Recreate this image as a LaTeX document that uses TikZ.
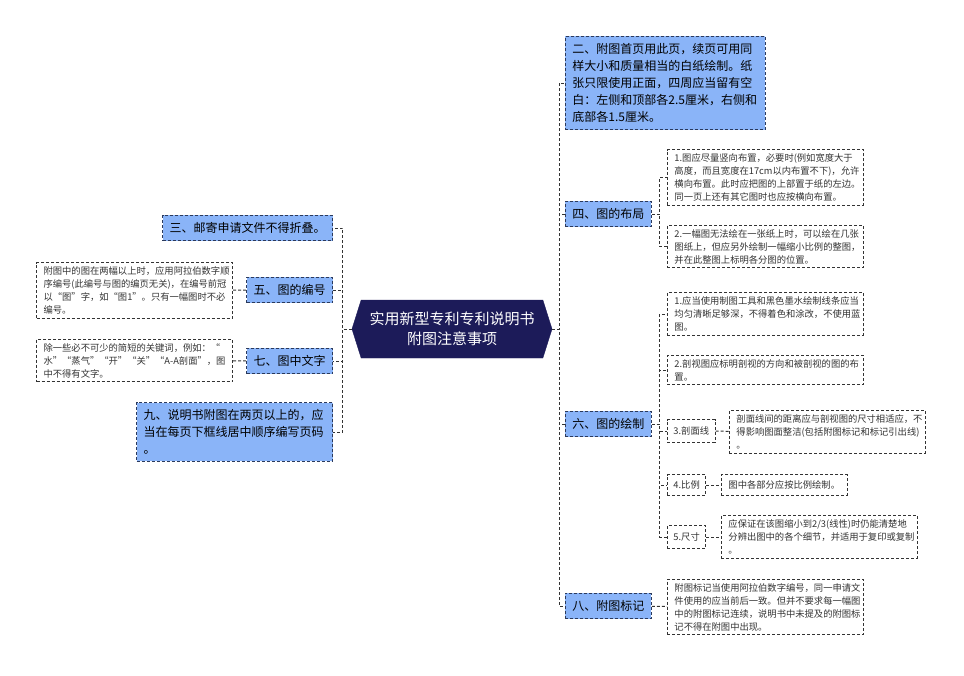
\documentclass[tikz,border=0pt]{standalone}
\usepackage{fontspec}
\setmainfont{Noto Sans CJK SC}
\usetikzlibrary{shapes.symbols}
\definecolor{navy}{HTML}{1C1B59}
\definecolor{sky}{HTML}{8AB4F8}
\definecolor{rim}{HTML}{2B3A5C}
\definecolor{wire}{HTML}{333333}
\begin{document}
\begin{tikzpicture}[x=1pt,y=-1pt,
    hub/.style={shape=signal, signal to=west and east, signal pointer angle=145,
        fill=navy, draw=navy, text=white, minimum width=200pt, minimum height=58pt,
        align=center, font=\fontsize{15}{20}\selectfont},
    topic/.style={draw=rim, fill=sky, dash pattern=on 3pt off 2pt, line width=0.9pt,
        inner xsep=7pt, inner ysep=7pt, align=left, font=\fontsize{12}{17}\selectfont},
    note/.style={draw=wire, fill=white, dash pattern=on 3pt off 2pt, line width=0.9pt,
        text width=182pt, inner xsep=7pt, inner ysep=4pt, align=left,
        font=\fontsize{9.3}{13}\selectfont, text=black!80},
    tag/.style={draw=wire, fill=white, dash pattern=on 3pt off 2pt, line width=0.9pt,
        inner xsep=6pt, inner ysep=7pt, font=\fontsize{9.3}{13}\selectfont, text=black!80},
    link/.style={draw=wire, dash pattern=on 3pt off 2pt, line width=1pt}]
\useasboundingbox (0,0) rectangle (964,675);

% centre
\node[hub] (ctr) at (452,329) {实用新型专利专利说明书\\附图注意事项};

% right branches
\node[topic, anchor=west, text width=186pt, inner xsep=7pt] (b2) at (565,83) {二、附图首页用此页，续页可用同\\样大小和质量相当的白纸绘制。纸\\张只限使用正面，四周应当留有空\\白：左侧和顶部各2.5厘米，右侧和\\底部各1.5厘米。};
\node[topic, anchor=west] (b4) at (565,214) {四、图的布局};
\node[topic, anchor=west] (b6) at (565,424) {六、图的绘制};
\node[topic, anchor=west] (b8) at (565,606) {八、附图标记};

\node[note, anchor=west] (a1) at (667,177.5) {1.图应尽量竖向布置，必要时(例如宽度大于\\高度，而且宽度在17cm以内布置不下)，允许\\横向布置。此时应把图的上部置于纸的左边。\\同一页上还有其它图时也应按横向布置。};
\node[note, anchor=west] (a2) at (667,246.5) {2.一幅图无法绘在一张纸上时，可以绘在几张\\图纸上，但应另外绘制一幅缩小比例的整图，\\并在此整图上标明各分图的位置。};

\node[note, anchor=west] (c1) at (667,314) {1.应当使用制图工具和黑色墨水绘制线条应当\\均匀清晰足够深，不得着色和涂改，不使用蓝\\图。};
\node[note, anchor=west] (c2) at (667,370) {2.剖视图应标明剖视的方向和被剖视的图的布\\置。};
\node[tag, anchor=west] (c3) at (667,431) {3.剖面线};
\node[note, anchor=west] (c3a) at (729,432) {剖面线间的距离应与剖视图的尺寸相适应，不\\得影响图面整洁(包括附图标记和标记引出线)\\。};
\node[tag, anchor=west, inner ysep=6pt] (c4) at (667,485) {4.比例};
\node[tag, anchor=west, inner ysep=6pt, inner xsep=7pt] (c4a) at (721,485) {图中各部分应按比例绘制。};
\node[tag, anchor=west] (c5) at (667,537) {5.尺寸};
\node[note, anchor=west] (c5a) at (721,537) {应保证在该图缩小到2/3(线性)时仍能清楚地\\分辨出图中的各个细节，并适用于复印或复制\\。};

\node[note, anchor=west] (d1) at (667,607) {附图标记当使用阿拉伯数字编号，同一申请文\\件使用的应当前后一致。但并不要求每一幅图\\中的附图标记连续，说明书中未提及的附图标\\记不得在附图中出现。};

% left branches
\node[topic, anchor=east] (b3) at (333,228) {三、邮寄申请文件不得折叠。};
\node[topic, anchor=east] (b5) at (333,290) {五、图的编号};
\node[topic, anchor=east] (b7) at (333,361) {七、图中文字};
\node[topic, anchor=east, text width=182pt] (b9) at (333,432) {九、说明书附图在两页以上的，应\\当在每页下框线居中顺序编写页码\\。};

\node[note, anchor=east] (l5) at (233,290.5) {附图中的图在两幅以上时，应用阿拉伯数字顺\\序编号(此编号与图的编页无关)，在编号前冠\\以“图”字，如“图1”。只有一幅图时不必\\编号。};
\node[note, anchor=east] (l7) at (233,360.5) {除一些必不可少的简短的关键词，例如：“\\水”“蒸气”“开”“关”“A-A剖面”，图\\中不得有文字。};

% connectors
\foreach \k in {b2,b4,b6,b8} \draw[link] (ctr.east) -- ++(7,0) |- (\k.west);
\foreach \k in {b3,b5,b7,b9} \draw[link] (ctr.west) -- ++(-9,0) |- (\k.east);
\foreach \k in {a1,a2} \draw[link] (b4.east) -- ++(8,0) |- (\k.west);
\foreach \k in {c1,c2,c3,c4,c5} \draw[link] (b6.east) -- ++(8,0) |- (\k.west);
\draw[link] (c3) -- (c3a); \draw[link] (c4) -- (c4a); \draw[link] (c5) -- (c5a);
\draw[link] (b8) -- (d1);
\draw[link] (b5) -- (l5); \draw[link] (b7) -- (l7);
\end{tikzpicture}
\end{document}
